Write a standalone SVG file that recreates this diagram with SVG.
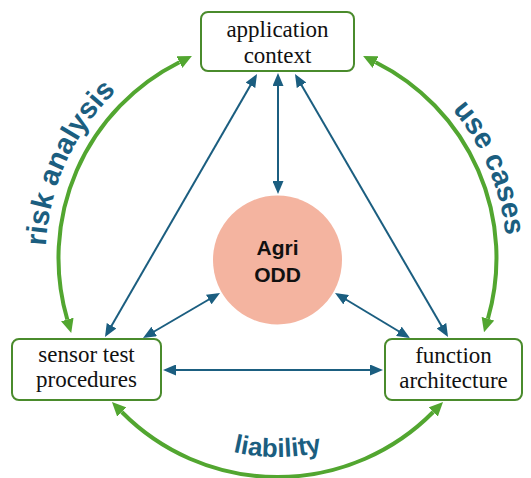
<svg xmlns="http://www.w3.org/2000/svg" width="531" height="478" viewBox="0 0 531 478">
<style>
.box{fill:#fff;stroke:#4a8b2c;stroke-width:2}
.nt{font-family:"Liberation Serif",serif;font-size:23px;fill:#111;text-anchor:middle}
.ct{font-family:"Liberation Sans",Arial,sans-serif;font-size:21px;font-weight:bold;fill:#111;text-anchor:middle}
.bl{fill:none;stroke:#1b5e80;stroke-width:2;marker-start:url(#ab);marker-end:url(#ab)}
.gr{fill:none;stroke:#52a630;stroke-width:4;marker-start:url(#ag);marker-end:url(#ag)}
.lab{font-family:"Liberation Sans",Arial,sans-serif;font-size:29px;font-weight:bold;fill:#1b5e80}
</style>
<defs>
<marker id="ab" viewBox="0 0 13 11" refX="10" refY="5.5" markerWidth="13" markerHeight="11" markerUnits="userSpaceOnUse" orient="auto-start-reverse"><path d="M0,0 L13,5.5 L0,11 z" fill="#1b5e80"/></marker>
<marker id="ag" viewBox="0 0 14 13" refX="0" refY="6.5" markerWidth="14" markerHeight="13" markerUnits="userSpaceOnUse" orient="auto-start-reverse"><path d="M0,0 L14,6.5 L0,13 z" fill="#52a630"/></marker>
<path id="pr" d="M53.9,320 A232,232 0 0 1 177.6,48.6"/>
<path id="pu" d="M381.4,53.9 A229,229 0 0 1 496.5,325"/>
<path id="pl" d="M105.2,357.5 A199,199 0 0 0 449.8,357.5"/>
</defs>
<g id="arcs">
<path class="gr" d="M67.3,319.5 A219,219 0 0 1 179.4,62.2"/>
<path class="gr" d="M375.6,62.2 A219,219 0 0 1 487.9,318.7"/>
<path class="gr" d="M121.8,412 A219,219 0 0 0 433.2,412"/>
</g>
<g id="arc-labels">
<text class="lab"><textPath href="#pr" startOffset="50%" text-anchor="middle">risk analysis</textPath></text>
<text class="lab"><textPath href="#pu" startOffset="50%" text-anchor="middle">use cases</textPath></text>
<text class="lab" style="font-size:26px"><textPath href="#pl" startOffset="50%" text-anchor="middle">liability</textPath></text>
</g>
<g id="connectors">
<path class="bl" d="M278,76 L278,191"/>
<path class="bl" d="M255.5,76.6 L106.5,334.4"/>
<path class="bl" d="M296.5,76.6 L446.5,334.4"/>
<path class="bl" d="M217.4,294.5 L145.6,336.5"/>
<path class="bl" d="M337.6,294.5 L407.4,336.5"/>
<path class="bl" d="M166,370 L380,370"/>
</g>
<g id="application-context">
<rect class="box" x="201" y="12" width="153" height="59" rx="7"/>
<text class="nt" x="277.5" y="36.5">application</text>
<text class="nt" x="277.5" y="63">context</text>
</g>
<g id="agri-odd">
<circle cx="277.5" cy="260" r="64.5" fill="#f4b4a0"/>
<text class="ct" x="277.5" y="255">Agri</text>
<text class="ct" x="277.5" y="282">ODD</text>
</g>
<g id="sensor-test-procedures">
<rect class="box" x="12" y="339" width="149" height="61" rx="7"/>
<text class="nt" x="86.5" y="361.5">sensor test</text>
<text class="nt" x="86.5" y="387">procedures</text>
</g>
<g id="function-architecture">
<rect class="box" x="385" y="339" width="137" height="61" rx="7"/>
<text class="nt" x="453.5" y="362.5">function</text>
<text class="nt" x="453.5" y="388">architecture</text>
</g>
</svg>
